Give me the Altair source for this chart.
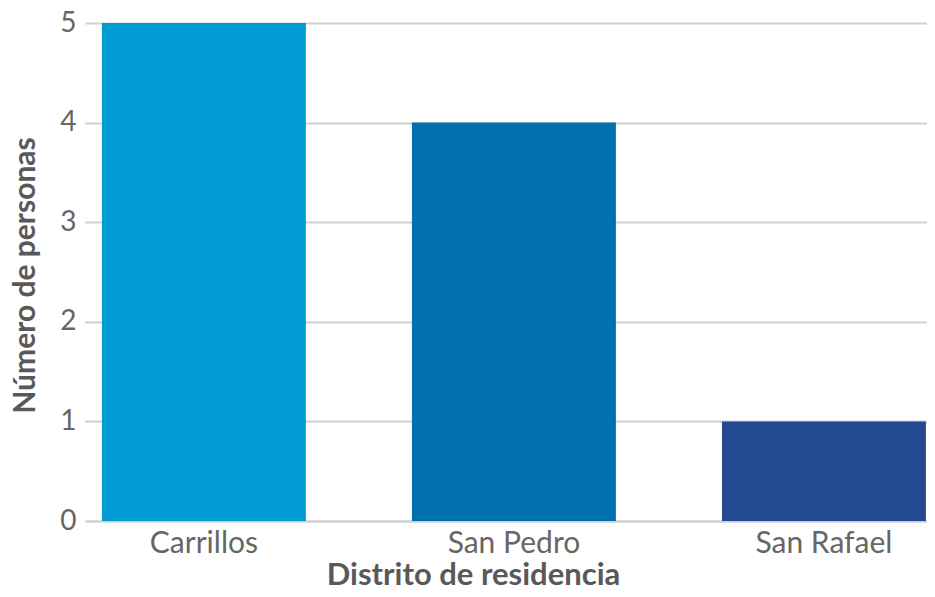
import altair as alt
import pandas as pd

distritos = ["Carrillos", "San Pedro", "San Rafael"]
personas = [5, 4, 1]
colores = ["#009BD2", "#0071AE", "#234A92"]

df = pd.DataFrame({"Distrito": distritos, "Personas": personas})

chart = alt.Chart(df).mark_bar().encode(
    x=alt.X(
        "Distrito:N",
        sort=distritos,
        title="Distrito de residencia",
        scale=alt.Scale(paddingInner=0.342, paddingOuter=0.029, align=0.94),
        axis=alt.Axis(
            labelAngle=0, labelFontSize=30, labelColor="#666666", labelFont="Lato",
            labelPadding=31, labelBaseline="alphabetic", ticks=False, tickSize=0,
            domainColor="#d0d0d0", domainWidth=2,
            titleFont="Lato", titleFontSize=31, titleFontWeight="bold", titleColor="#595959",
            titleX=388, titleY=63, titleBaseline="alphabetic", titleAlign="center",
        ),
    ),
    y=alt.Y(
        "Personas:Q",
        title="Número de personas",
        scale=alt.Scale(domain=[0, 5], nice=False),
        axis=alt.Axis(
            values=[0, 1, 2, 3, 4, 5], format="d", labelFontSize=28, labelColor="#666666",
            labelFont="Lato", labelPadding=9, ticks=False, tickSize=0, domain=False,
            grid=True, gridColor="#d0d0d0", gridWidth=2,
            titleFont="Lato", titleFontSize=30, titleFontWeight="bold", titleColor="#595959",
            titleX=-51, titleY=252, titleBaseline="alphabetic", titleAngle=270,
        ),
    ),
    color=alt.Color("Distrito:N", scale=alt.Scale(domain=distritos, range=colores), legend=None),
).properties(
    width=842,
    height=498,
    autosize=alt.AutoSizeParams(type="none"),
    padding={"left": 77, "top": 15, "right": 0, "bottom": 68},
).configure_view(stroke=None)

chart.save("out.html", embed_options={"renderer": "svg", "actions": False})
